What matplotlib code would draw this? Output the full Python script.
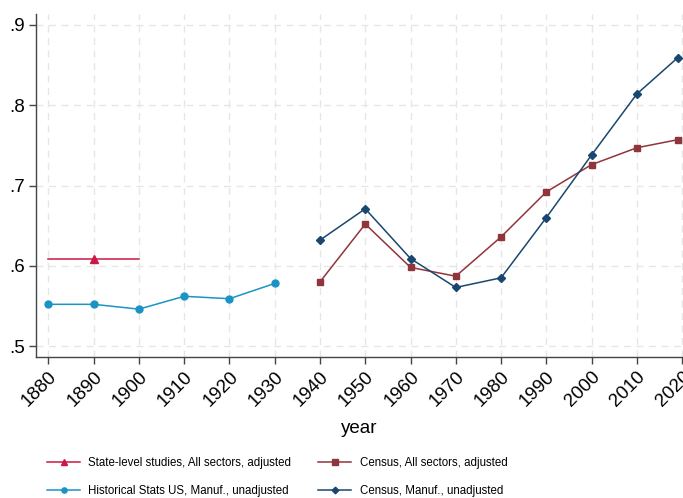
import numpy as np
import matplotlib.pyplot as plt
from matplotlib import font_manager

plt.rcParams['font.family'] = ['Liberation Sans', 'DejaVu Sans']

# data
state_years = [1880, 1890, 1900]
state_vals = [0.609, 0.609, 0.609]

hist_years = [1880, 1890, 1900, 1910, 1920, 1930]
hist_vals = [0.552, 0.552, 0.546, 0.562, 0.559, 0.578]

census_years = [1940, 1950, 1960, 1970, 1980, 1990, 2000, 2010, 2019]
census_all = [0.580, 0.652, 0.598, 0.587, 0.636, 0.692, 0.726, 0.747, 0.757]
census_manuf = [0.632, 0.671, 0.609, 0.573, 0.585, 0.660, 0.738, 0.814, 0.859]

xticks = list(range(1880, 2021, 10))
yticks = [0.5, 0.6, 0.7, 0.8, 0.9]
ylabels = ['.5', '.6', '.7', '.8', '.9']

RED = '#cc1846'
LTBLUE = '#1a94c6'
MAROON = '#90353b'
NAVY = '#1a476f'

# narrow face for the legend if it is there
names = {f.name for f in font_manager.fontManager.ttflist}
if 'Liberation Sans Narrow' in names:
    leg_font = dict(family='Liberation Sans Narrow', size=10.2)
else:
    leg_font = dict(family='Liberation Sans', size=8.3)

fig = plt.figure(figsize=(6.83, 4.98), dpi=100)
ax = fig.add_axes([0.053, 0.283, 0.947, 0.689])

l1, = ax.plot(state_years, state_vals, color=RED, lw=1.1, marker='^', ms=6,
              markevery=[1], label='State-level studies, All sectors, adjusted')
l2, = ax.plot(census_years, census_all, color=MAROON, lw=1.1, marker='s', ms=5,
              label='Census, All sectors, adjusted')
l3, = ax.plot(hist_years, hist_vals, color=LTBLUE, lw=1.1, marker='o', ms=5,
              label='Historical Stats US, Manuf., unadjusted')
l4, = ax.plot(census_years, census_manuf, color=NAVY, lw=1.1, marker='D', ms=4.5,
              label='Census, Manuf., unadjusted')

ax.set_xlim(1877.3, 2020.2)
ax.set_ylim(0.4863, 0.9137)
ax.set_xticks(xticks)
ax.set_xticklabels([str(x) for x in xticks], rotation=45, ha='right',
                   rotation_mode='anchor', fontsize=13.5)
ax.set_yticks(yticks)
ax.set_yticklabels(ylabels, fontsize=13.5)
ax.tick_params(axis='both', length=5, width=1, color='#444444', pad=3)

ax.grid(True, color='#e6e6e6', lw=1, ls=(0, (5, 4)))
ax.set_axisbelow(True)
for s in ['top', 'right']:
    ax.spines[s].set_visible(False)
for s in ['left', 'bottom']:
    ax.spines[s].set_color('#444444')
    ax.spines[s].set_linewidth(1)

ax.set_xlabel('year', fontsize=13.5, labelpad=7)

# column-first fill: state, hist | census all, census manuf
fig.legend([l1, l3, l2, l4], [l.get_label() for l in [l1, l3, l2, l4]],
           loc='upper left', bbox_to_anchor=(47 / 683, 1 - 457 / 498),
           ncol=2, frameon=False, prop=leg_font, handlelength=2.9,
           markerscale=0.75, borderpad=0, borderaxespad=0,
           columnspacing=2.3, handletextpad=0.7, labelspacing=1.35)

fig.savefig('out.png', dpi=100)
